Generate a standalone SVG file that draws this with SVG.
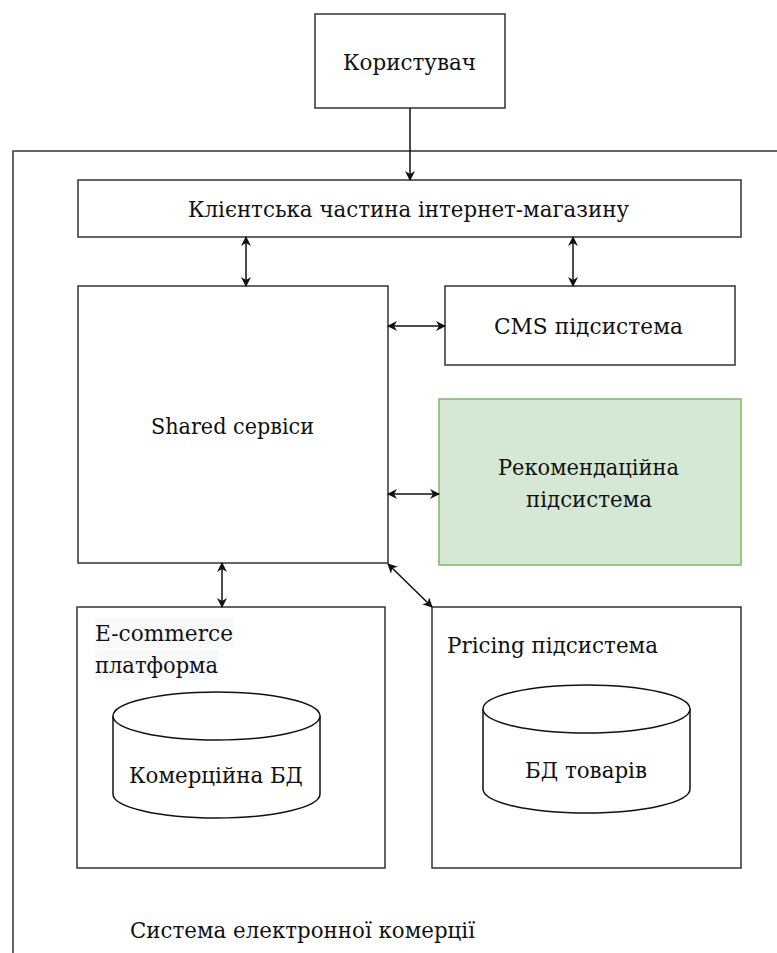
<svg xmlns="http://www.w3.org/2000/svg" width="777" height="953" viewBox="0 0 777 953">
<style>
.box{fill:#fff;stroke:#333;stroke-width:1.5}
.rec{fill:#d5e8d4;stroke:#82b366;stroke-width:1.5}
.t{font-family:'DejaVu Serif','Liberation Serif',serif;font-size:23px;fill:#111}
.ln{stroke:#111;stroke-width:1.5;fill:none;marker-end:url(#ah)}
.bi{stroke:#111;stroke-width:1.5;fill:none;marker-end:url(#ah);marker-start:url(#as)}
.cyl{fill:#fff;stroke:#111;stroke-width:1.5}
</style>
<defs>
<marker id="ah" viewBox="0 0 10 10" refX="9" refY="5" markerWidth="10" markerHeight="10" markerUnits="userSpaceOnUse" orient="auto">
<path d="M0,0 L10,5 L0,10 L3,5 Z" fill="#111"/>
</marker>
<marker id="as" viewBox="0 0 10 10" refX="1" refY="5" markerWidth="10" markerHeight="10" markerUnits="userSpaceOnUse" orient="auto">
<path d="M10,0 L0,5 L10,10 L7,5 Z" fill="#111"/>
</marker>
</defs>
<g id="system">
<path d="M13,953 L13,151 L777,151" fill="none" stroke="#333" stroke-width="1.5"/>
<text class="t" x="130" y="938" textLength="345" lengthAdjust="spacingAndGlyphs">Система електронної комерції</text>
</g>
<g id="user">
<rect class="box" x="315" y="14" width="190" height="94"/>
<text class="t" x="343" y="70" textLength="133" lengthAdjust="spacingAndGlyphs">Користувач</text>
</g>
<g id="client">
<rect class="box" x="78" y="180" width="663" height="57"/>
<text class="t" x="188" y="217" textLength="441" lengthAdjust="spacingAndGlyphs">Клієнтська частина інтернет-магазину</text>
</g>
<g id="shared">
<rect class="box" x="78" y="286" width="310" height="277"/>
<text class="t" x="151" y="434" textLength="163" lengthAdjust="spacingAndGlyphs">Shared сервіси</text>
</g>
<g id="cms">
<rect class="box" x="445" y="286" width="290" height="79"/>
<text class="t" x="494" y="334" textLength="189" lengthAdjust="spacingAndGlyphs">CMS підсистема</text>
</g>
<g id="recommend">
<rect class="rec" x="439" y="399" width="302" height="166"/>
<text class="t" x="498" y="475" textLength="181" lengthAdjust="spacingAndGlyphs">Рекомендаційна</text>
<text class="t" x="526" y="507" textLength="126" lengthAdjust="spacingAndGlyphs">підсистема</text>
</g>
<g id="ecommerce">
<rect class="box" x="77" y="607" width="308" height="261"/>
<rect x="95" y="618" width="139" height="30" fill="#f8f9fa"/>
<rect x="95" y="650" width="124" height="30" fill="#f8f9fa"/>
<text class="t" x="95" y="641" textLength="138" lengthAdjust="spacingAndGlyphs">E-commerce</text>
<text class="t" x="95" y="673" textLength="123" lengthAdjust="spacingAndGlyphs">платформа</text>
<g id="db-commerce">
<path class="cyl" d="M113,716 L113,794 A103.5,24 0 0 0 320,794 L320,716 A103.5,24 0 0 0 113,716 Z"/>
<path class="cyl" d="M113,716 A103.5,24 0 0 0 320,716" fill="none"/>
<text class="t" x="129" y="783" textLength="174" lengthAdjust="spacingAndGlyphs">Комерційна БД</text>
</g>
</g>
<g id="pricing">
<rect class="box" x="432" y="607" width="309" height="261"/>
<text class="t" x="447" y="653" textLength="211" lengthAdjust="spacingAndGlyphs">Pricing підсистема</text>
<g id="db-goods">
<path class="cyl" d="M483,709 L483,789 A103.5,24 0 0 0 690,789 L690,709 A103.5,24 0 0 0 483,709 Z"/>
<path class="cyl" d="M483,709 A103.5,24 0 0 0 690,709" fill="none"/>
<text class="t" x="525" y="778" textLength="122" lengthAdjust="spacingAndGlyphs">БД товарів</text>
</g>
</g>
<g id="connectors">
<line class="ln" x1="410" y1="108" x2="410" y2="180"/>
<line class="bi" x1="246" y1="237" x2="246" y2="286"/>
<line class="bi" x1="573" y1="237" x2="573" y2="286"/>
<line class="bi" x1="388" y1="326" x2="445" y2="326"/>
<line class="bi" x1="388" y1="494" x2="439" y2="494"/>
<line class="bi" x1="222" y1="563" x2="222" y2="607"/>
<line class="bi" x1="388" y1="564" x2="432" y2="607"/>
</g>
</svg>
